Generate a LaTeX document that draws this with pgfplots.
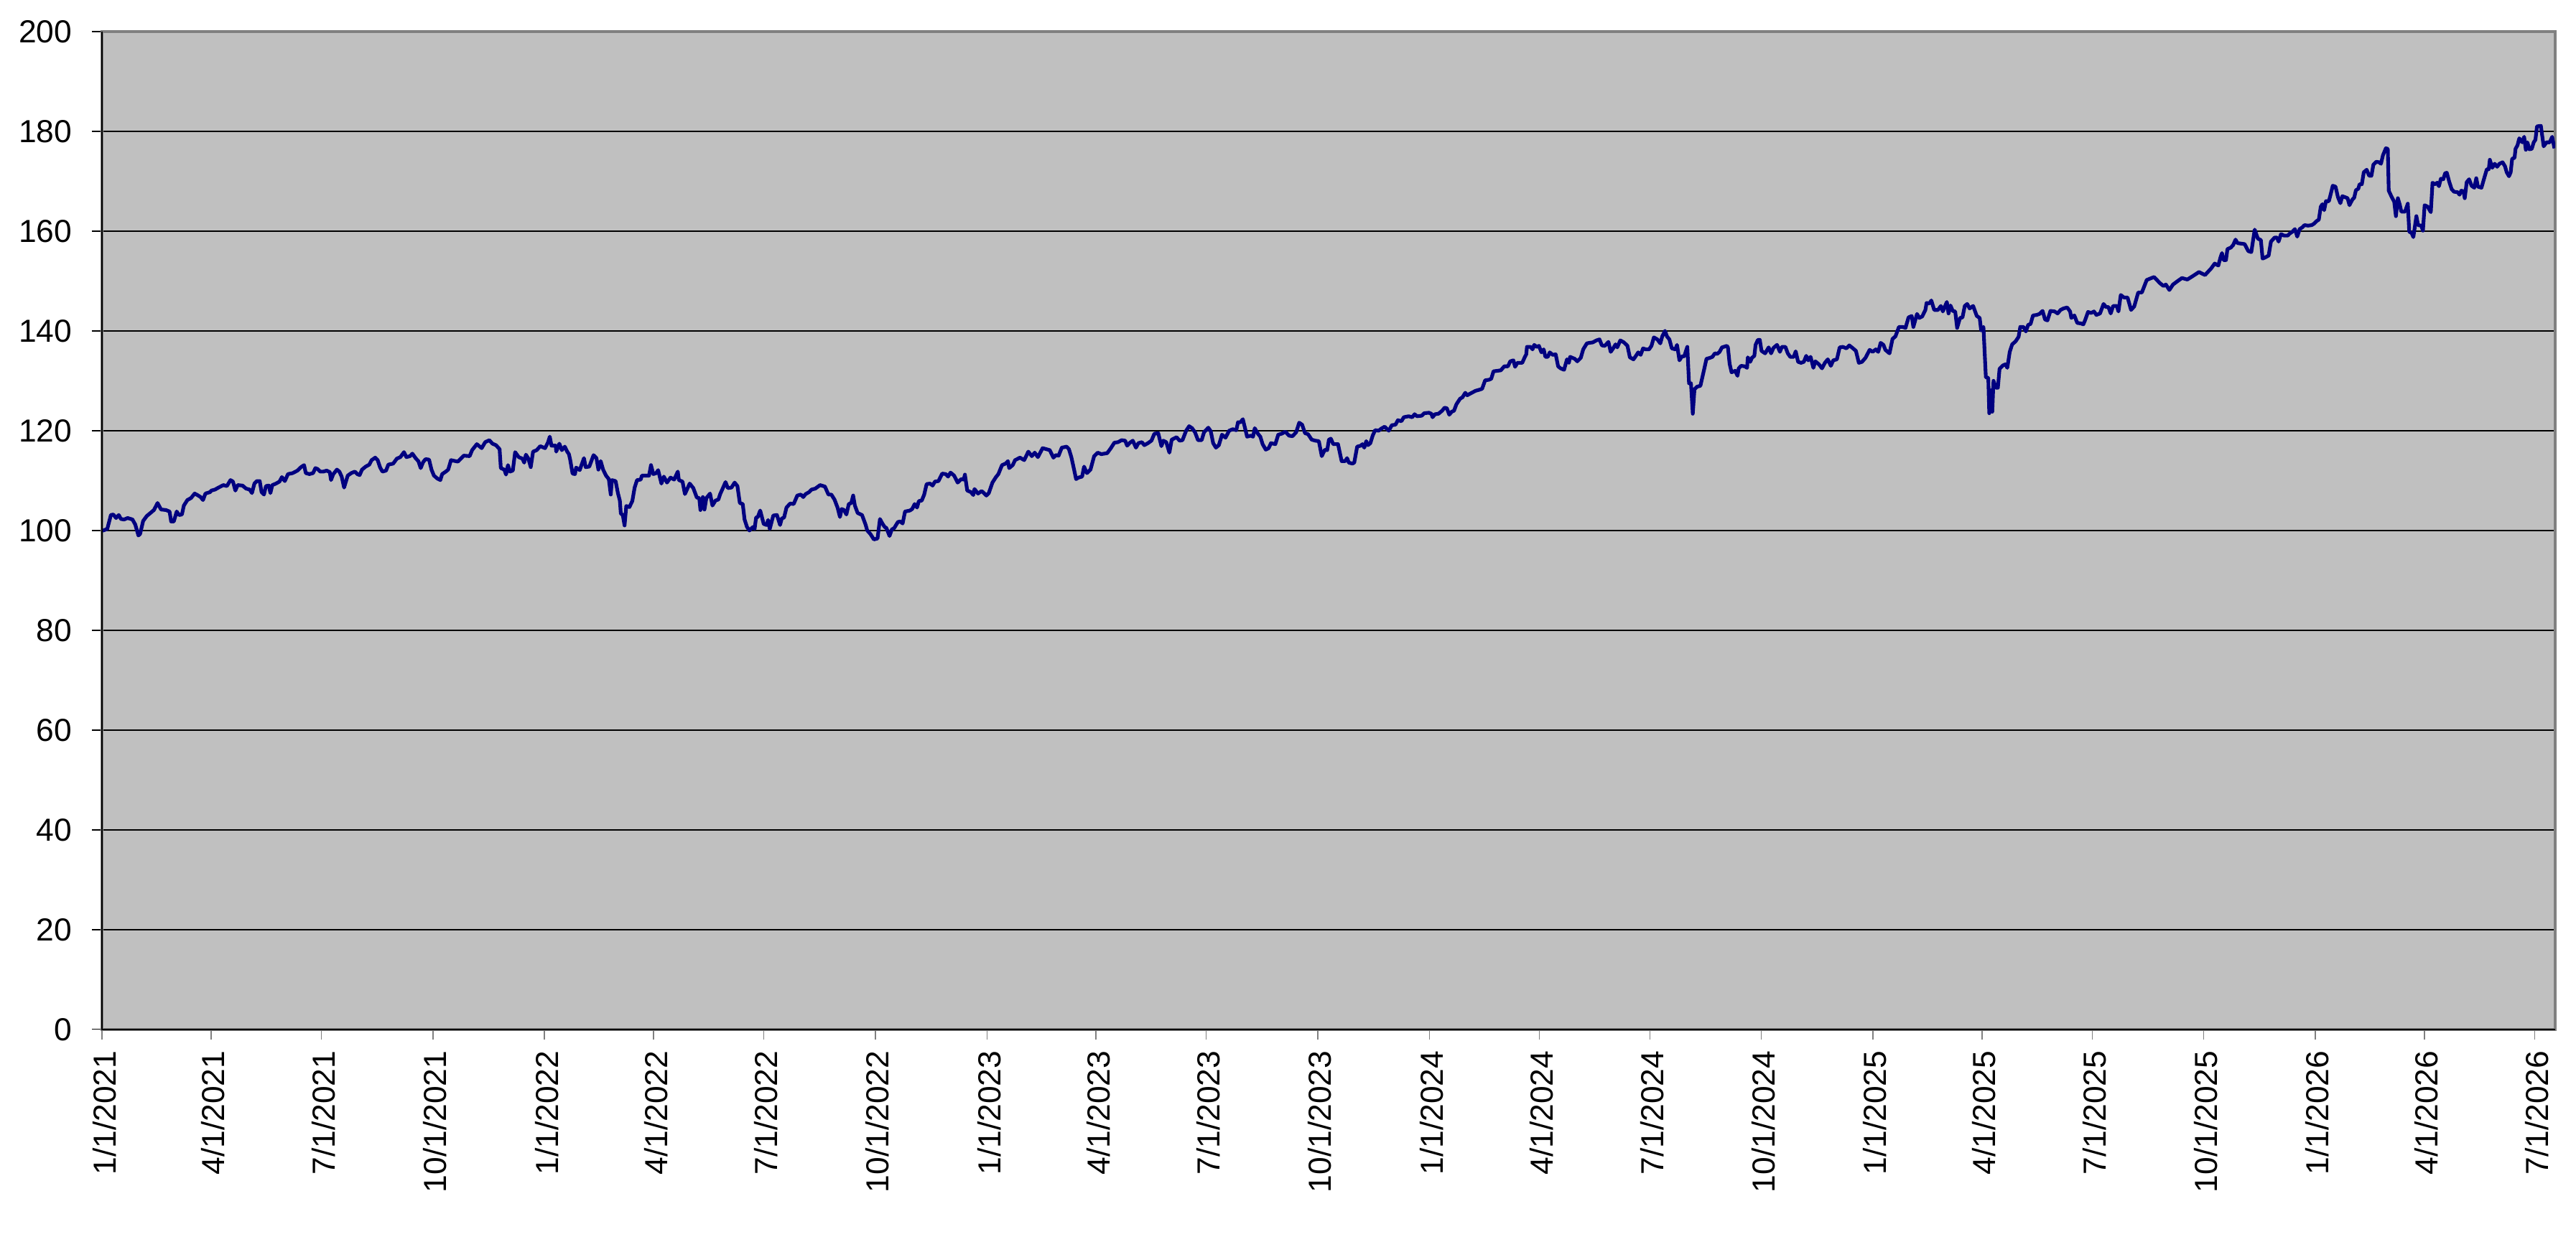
\documentclass[border=0pt]{standalone}
\usepackage{fontspec}
\setmainfont{Liberation Sans}
\usepackage{pgfplots}
\pgfplotsset{compat=1.18}
\definecolor{plotgray}{HTML}{C0C0C0}
\definecolor{bordergray}{HTML}{808080}
\definecolor{navyline}{HTML}{000080}
\begin{document}
\begin{tikzpicture}
\useasboundingbox (-32pt,-65.1pt) rectangle (775.8pt,322.9pt);
\begin{axis}[
  scale only axis, width=769.3pt, height=313pt,
  xmin=0, xmax=2024, ymin=0, ymax=200,
  axis background/.style={fill=plotgray},
  axis line style={draw=bordergray, line width=0.8pt},
  ytick={0,20,...,200},
  ymajorgrids, major grid style={black, line width=0.3pt},
  xtick={0,90,181,273,365,455,546,638,730,820,911,1003,1095,1186,1277,1369,1461,1551,1642,1734,1826,1916,2007},
  xticklabels={1/1/2021,4/1/2021,7/1/2021,10/1/2021,1/1/2022,4/1/2022,7/1/2022,10/1/2022,1/1/2023,4/1/2023,7/1/2023,10/1/2023,1/1/2024,4/1/2024,7/1/2024,10/1/2024,1/1/2025,4/1/2025,7/1/2025,10/1/2025,1/1/2026,4/1/2026,7/1/2026},
  tick align=outside, major tick length=3.2pt,
  xtick pos=bottom, ytick pos=left,
  ytick style={black, line width=0.3pt},
  xtick style={bordergray, line width=0.3pt},
  tick label style={font=\fontsize{10}{12}\selectfont, black},
  xticklabel style={rotate=90, anchor=east, yshift=-0.7pt},
  yticklabel style={anchor=east, xshift=-2.7pt},
  /pgf/number format/assume math mode=true,
  extra description/.code={\draw[black, line width=0.5pt] (rel axis cs:0,1) -- (rel axis cs:0,0) -- (rel axis cs:1,0);},
]
\addplot[navyline, line width=1.15pt, line join=round, no marks] coordinates {
(0,100)(1.0,100)(4.3,100.3)(7.3,103.1)(9.3,103.2)(11.6,102.5)(13.8,103.1)(15.6,102.3)(18.2,102.2)(21.1,102.5)(25.1,102.2)(27.4,101.2)(30.0,99.0)(31.4,99.3)(33.9,101.9)(36.9,102.9)(39.9,103.5)(42.8,104.1)(45.8,105.5)(48.7,104.2)(52.7,104.1)(55.7,103.8)(57.0,101.8)(59.2,101.8)(61.6,103.8)(63.5,103.1)(65.9,103.2)(67.5,105.0)(70.4,106.1)(73.4,106.5)(76.4,107.4)(78.7,107.1)(81.3,106.7)(83.3,106.1)(85.3,107.4)(89.2,107.7)(90.2,108.0)(93.2,108.2)(96.1,108.6)(100.1,109.1)(103.0,108.9)(106.0,110.1)(108.0,109.8)(110.0,108.0)(111.9,109.1)(115.9,109.0)(118.8,108.4)(121.8,108.2)(123.7,107.5)(125.7,109.4)(127.7,109.9)(130.1,109.9)(131.6,107.7)(133.6,107.2)(135.2,108.9)(137.6,109.0)(138.9,107.5)(140.5,109.1)(143.5,109.4)(146.4,109.8)(148.4,110.7)(150.8,109.9)(153.4,111.3)(157.3,111.5)(161.2,112.0)(164.2,112.7)(166.7,113.1)(168.1,111.5)(171.1,111.3)(174.1,111.5)(176.0,112.5)(178.0,112.3)(180.0,111.8)(182.6,111.8)(185.3,112.0)(187.9,111.7)(188.9,110.1)(190.8,111.3)(193.8,112.2)(195.8,111.8)(197.7,110.8)(199.7,108.6)(202.7,111.0)(205.6,111.5)(208.6,111.8)(210.6,111.3)(212.5,111.1)(214.5,112.2)(217.5,112.8)(220.5,113.2)(222.4,114.1)(225.4,114.6)(227.4,114.1)(229.3,112.7)(231.3,111.8)(234.3,112.0)(236.2,113.2)(240.2,113.4)(243.2,114.4)(246.1,114.7)(249.1,115.7)(251.1,114.7)(254.1,114.9)(256.0,115.4)(259.0,114.4)(261.0,113.9)(262.9,112.5)(264.9,113.7)(266.9,114.3)(269.8,114.2)(271.8,112.2)(273.8,111.0)(276.7,110.4)(279.1,110.1)(280.6,111.3)(283.6,111.8)(285.6,112.2)(287.9,114.1)
(293.5,113.8)(298.4,115.0)(303.3,114.9)(305.3,116.1)(309.2,117.3)(313.2,116.5)(316.1,117.7)(319.5,118.1)(322.1,117.4)(325.0,117.1)(328.0,116.3)(329.0,112.5)(331.9,112.2)(333.3,111.2)(334.9,113.1)(336.5,111.8)(338.9,112.0)(340.8,115.7)(343.8,114.7)(346.8,114.4)(348.3,113.6)(349.7,115.2)(351.7,114.4)(353.7,112.7)(355.6,115.8)(358.6,116.1)(361.5,116.9)(365.5,116.5)(368.0,117.7)(369.4,118.8)(370.8,117.0)(374.3,117.0)(374.7,115.8)(377.3,117.4)(379.3,116.1)(381.8,116.8)(383.8,115.8)(385.2,115.3)(386.2,114.2)(388.2,111.4)(390.2,111.3)(391.1,112.6)(394.1,112.1)(397.6,114.5)(399.0,112.7)(402.0,112.8)(405.5,115.1)(407.9,114.5)(409.5,112.2)(411.4,113.9)(413.4,112.2)(415.8,111.0)(418.1,110.3)(419.7,107.2)(420.7,110.1)(423.7,109.9)(425.6,107.5)(427.2,106.0)(428.0,103.4)(429.6,103.1)(431.1,101.0)(432.5,104.9)(435.1,104.7)(437.5,105.9)(439.4,108.6)(441.4,110.1)(444.4,110.2)(445.4,111.0)(448.3,111.0)(451.3,111.0)(452.9,113.1)(454.8,111.3)(457.2,111.5)(458.8,112.1)(461.5,109.4)(463.5,110.8)(466.1,109.6)(469.0,110.6)(472.0,110.2)(475.0,111.8)(475.9,110.1)(478.9,109.8)(480.9,107.3)(484.8,109.4)(487.8,108.5)(490.7,106.6)(492.7,106.5)(493.7,104.1)(495.7,106.7)(497.0,104.2)(498.6,106.5)(501.6,107.4)(503.6,105.0)(506.1,106.0)(508.5,106.2)(510.0,107.3)(512.4,108.6)(514.4,109.7)(516.3,108.5)(519.3,108.6)(521.9,109.6)(524.2,108.9)(526.2,105.5)(528.6,105.3)(530.1,102.2)(532.1,100.7)(534.1,100.0)(537.1,100.7)(538.4,100.3)(539.6,102.6)(541.0,102.7)(543.0,104.0)(545.9,101.3)(548.3,101.1)(549.5,102.1)(550.9,100.3)(553.8,103.0)(556.8,103.1)(559.4,101.1)(560.8,102.4)(562.7,102.6)(564.7,104.6)(567.7,105.4)(570.6,105.3)(573.6,107.0)(576.5,107.2)(578.5,106.7)(580.5,107.3)(583.4,107.7)(585.4,108.2)
(588.5,108.4)(592.4,109.1)(596.4,108.8)(599.3,107.2)(601.7,107.2)(604.3,106.2)(606.8,104.6)(608.8,102.7)(610.2,104.3)(612.2,104.1)(614.1,103.2)(616.1,105.3)(618.1,105.5)(619.7,107.0)(621.1,105.0)(623.4,103.5)(627.0,103.1)(629.9,101.2)(631.3,100.0)(633.9,99.3)(636.8,98.2)(639.8,98.4)(641.8,102.3)(643.8,101.4)(645.7,100.7)(647.1,100.5)(649.7,98.9)(651.6,100.2)(653.6,100.5)(656.6,101.7)(658.6,101.8)(660.5,101.4)(662.5,103.8)(666.5,104.0)(668.4,104.3)(670.4,105.3)(672.4,104.6)(673.9,105.9)(676.3,106.0)(678.3,107.2)(680.3,109.3)(683.2,109.4)(685.2,109.0)(687.2,109.8)(690.1,109.9)(693.1,111.4)(696.1,111.3)(698.0,110.8)(700.0,111.6)(703.0,111.0)(705.9,109.6)(708.9,110.3)(710.9,110.2)(711.9,111.2)(713.8,108.0)(716.8,107.7)(718.8,107.1)(719.8,108.3)(722.7,107.4)(725.7,107.9)(727.6,107.5)(729.6,107.0)(731.6,107.5)(734.6,109.6)(737.5,110.7)(739.5,111.3)(742.5,113.1)(745.4,113.4)(747.4,113.9)(748.4,112.5)(751.3,113.1)(753.3,114.1)(757.3,114.6)(760.8,114.1)(764.2,115.8)(767.1,114.9)(769.5,115.6)(772.1,114.7)(776.0,116.5)(779.0,116.3)(781.9,116.1)(784.9,114.6)(786.9,115.1)(789.2,115.0)(791.8,116.6)(795.8,116.8)(797.7,116.3)(799.7,114.7)(801.7,112.5)(803.6,110.3)(805.6,110.6)(808.6,110.8)(810.2,112.8)(812.5,111.5)(815.5,112.2)(818.5,114.9)(821.4,115.6)(824.4,115.3)(829.3,115.5)(832.3,116.5)(835.2,117.6)(838.2,117.7)(841.2,118.1)(844.1,118.0)(845.7,117.0)(848.1,117.6)(850.4,118.0)(853.0,116.6)(855.0,117.5)(857.9,117.7)(859.9,117.1)(862.9,117.5)(865.8,118.0)(868.2,119.4)(871.4,119.5)
(874.0,116.9)(875.6,118.0)(878.0,117.7)(880.6,115.6)(882.5,118.2)(886.5,118.7)(889.0,118.0)(891.4,118.1)(894.4,120.0)(896.9,120.9)(899.3,120.5)(901.7,119.7)(904.2,118.1)(907.2,118.1)(909.2,119.7)(912.7,120.6)(914.7,119.9)(916.7,117.5)(919.0,116.6)(921.4,117.1)(924.0,119.2)(926.9,118.6)(929.9,120.0)(932.9,120.3)(935.8,120.1)(937.2,121.7)(939.2,121.7)(941.2,122.3)(942.7,120.8)(944.7,118.8)(947.7,119.0)(949.6,118.8)(951.0,120.5)(953.6,119.4)(955.6,118.8)(957.5,117.3)(960.1,116.2)(962.5,116.5)(964.4,117.5)(968.0,117.3)(970.4,119.2)(973.3,119.4)(976.3,119.8)(979.3,119.0)(982.2,118.9)(985.2,119.7)(987.7,121.6)(990.1,121.2)(992.5,119.5)(995.0,119.3)(998.0,118.2)(1001.0,118.0)(1003.9,117.9)(1006.3,114.9)(1008.9,116.2)(1010.8,116.1)(1012.2,118.2)(1013.8,118.4)(1015.8,117.3)(1019.7,117.3)(1022.7,113.9)(1025.6,113.9)(1027.2,114.5)(1028.6,113.6)(1031.6,113.4)(1033.1,113.6)(1035.5,116.8)(1038.5,117.0)(1039.9,117.3)(1041.4,116.6)(1043.0,117.9)(1044.4,117.1)(1046.4,117.5)(1048.3,119.0)(1050.3,120.1)(1053.3,120.0)(1055.3,120.4)(1058.2,120.8)(1061.6,120.0)(1064.1,121.1)(1067.1,121.2)(1069.1,122.1)(1072.0,121.9)(1074.0,122.7)(1078.0,122.9)(1080.9,122.7)(1082.9,123.3)(1084.9,122.9)(1088.8,123.0)(1090.8,123.5)(1094.7,123.6)(1096.7,123.4)(1097.7,122.7)(1099.7,123.3)(1102.6,123.4)(1105.6,124.0)(1107.6,124.6)(1109.5,124.5)(1111.5,123.2)(1113.5,123.8)(1115.4,124.0)(1117.4,125.3)(1120.4,126.4)(1122.4,126.7)(1124.7,127.6)(1126.3,127.1)(1129.3,127.5)(1133.2,128.0)(1136.2,128.2)(1138.6,128.4)(1141.1,130.1)(1144.1,130.2)(1146.1,130.4)(1148.0,131.9)(1151.0,132.0)(1154.0,132.1)(1156.9,132.9)(1159.9,132.9)(1161.8,133.9)
(1164.4,134.1)(1165.8,132.8)(1167.7,133.6)(1171.7,133.6)(1173.7,134.7)(1175.0,135.3)(1175.6,136.8)(1178.6,136.8)(1180.2,136.3)(1181.6,137.2)(1183.5,136.8)(1185.5,137.0)(1187.5,135.7)(1189.4,136.3)(1190.8,134.8)(1192.8,134.8)(1194.4,135.7)(1196.8,135.2)(1199.3,135.3)(1201.3,132.9)(1203.3,132.5)(1206.2,132.2)(1208.6,134.3)(1210.2,133.6)(1211.2,134.8)(1215.1,134.4)(1217.1,133.9)(1220.0,134.6)(1222.0,136.3)(1225.0,137.5)(1227.0,137.6)(1229.9,137.7)(1232.9,138.1)(1235.4,138.3)(1237.4,137.1)(1239.8,137.0)(1242.8,137.8)(1244.7,135.8)(1246.7,136.5)(1248.7,137.3)(1250.1,136.7)(1252.6,138.1)(1255.6,137.7)(1258.5,137.0)(1260.5,134.7)(1263.5,134.3)(1265.5,135.0)(1267.4,135.7)(1269.4,135.2)(1271.4,136.5)(1273.7,136.3)(1276.3,136.3)(1278.3,137.0)(1280.3,138.7)(1283.2,138.3)(1285.6,137.5)(1287.2,138.9)(1289.5,140.0)(1291.1,138.9)(1293.1,138.3)(1295.1,136.5)(1298.0,136.3)(1299.4,137.2)(1301.4,134.1)(1303.4,134.9)(1305.3,134.9)(1307.9,136.8)(1309.3,129.5)(1310.9,129.5)(1312.4,123.4)(1313.8,128.3)(1315.8,128.8)(1318.7,129.0)(1321.7,132.2)(1323.7,134.4)(1326.6,134.6)(1328.6,134.8)(1330.6,135.5)(1332.6,135.4)(1334.5,135.8)(1336.5,136.7)(1340.5,137.0)(1341.4,136.7)(1342.8,133.4)(1344.4,131.7)(1347.4,132.0)(1349.3,131.0)(1350.3,132.5)(1352.3,133.0)(1355.3,132.9)(1357.2,132.6)(1357.8,134.7)(1359.8,133.8)(1361.2,134.6)(1363.2,135.0)(1364.2,137.2)(1366.1,138.2)(1367.7,138.2)(1369.1,136.0)(1372.1,135.5)(1375.0,136.7)(1377.0,135.5)(1379.0,136.6)(1381.9,137.2)(1384.3,135.8)(1385.9,136.8)(1388.8,136.8)(1390.8,135.5)(1392.8,134.8)(1395.7,134.8)(1397.3,135.9)(1399.3,133.8)(1401.7,133.6)(1404.0,133.8)(1406.0,135.0)(1407.6,134.1)(1409.6,134.8)(1411.9,132.6)(1413.5,133.9)(1416.5,133.3)(1419.0,132.5)(1421.4,133.6)(1423.8,134.3)(1426.3,133.0)(1428.3,134.1)(1431.3,134.3)(1433.6,136.7)(1436.2,136.8)(1439.2,136.5)(1441.5,137.1)(1444.1,136.6)(1447.0,136.0)(1449.4,133.6)(1452.0,133.8)(1454.9,134.6)
(1458.3,136.2)(1460.8,135.8)(1463.4,136.3)(1465.4,135.8)(1467.4,137.6)(1469.7,137.2)(1471.3,136.2)(1474.7,135.5)(1477.2,138.4)(1479.6,138.9)(1482.5,140.8)(1485.5,140.8)(1487.9,140.6)(1490.4,142.7)(1493.0,143.0)(1494.4,140.8)(1497.4,143.4)(1499.3,142.6)(1501.7,142.9)(1504.3,144.2)(1505.3,145.6)(1507.6,145.5)(1509.2,146.1)(1511.6,144.2)(1514.7,144.2)(1517.1,145.0)(1518.7,143.9)(1522.0,145.8)(1523.4,143.5)(1525.0,145.1)(1526.9,144.0)(1528.9,143.9)(1530.5,140.6)(1532.9,142.6)(1534.9,142.7)(1536.8,145.0)(1538.8,145.4)(1540.8,144.5)(1543.7,145.0)(1546.7,143.0)(1549.1,142.6)(1550.3,140.1)(1552.2,140.8)(1554.2,130.7)(1556.2,130.6)(1557.0,123.5)(1558.5,128.1)(1559.5,123.8)(1560.5,130.0)(1562.5,128.6)(1564.1,128.6)(1565.5,132.4)(1568.4,133.1)(1570.4,133.3)(1571.9,132.6)(1573.9,135.8)(1575.9,137.3)(1578.7,137.9)(1581.2,138.8)(1582.6,140.8)(1585.2,140.8)(1587.2,139.9)(1589.1,141.2)(1591.1,141.4)(1593.1,143.1)(1596.1,143.2)(1598.4,143.4)(1601.0,144.0)(1603.0,142.3)(1605.0,142.1)(1607.5,144.0)(1610.9,143.9)(1613.4,143.5)(1615.8,144.2)(1618.2,144.5)(1621.3,144.7)(1623.7,143.9)(1624.7,142.6)(1627.2,143.1)(1629.6,141.6)(1632.6,141.5)(1634.6,141.3)(1636.0,142.1)(1638.5,143.8)(1641.1,143.6)(1643.4,143.9)(1645.4,143.2)(1648.4,143.5)(1651.3,145.4)(1653.3,144.8)(1655.3,144.8)(1657.2,143.5)(1659.2,145.0)(1662.2,145.0)(1663.6,143.9)(1665.5,147.2)(1668.1,146.7)(1671.1,146.7)(1674.0,144.2)(1676.6,144.9)(1679.9,147.7)(1682.9,147.7)(1686.9,150.2)(1689.8,150.5)(1693.0,150.8)(1697.7,149.6)(1700.7,149.0)(1702.7,149.3)(1705.6,148.2)(1708.6,149.3)(1712.5,150.0)(1716.0,150.6)(1720.4,150.3)(1725.0,151.0)(1730.0,151.8)(1735.0,151.2)(1740.0,152.5)(1743.0,153.5)
(1746.0,153.1)(1747.6,154.6)(1749.0,155.6)(1750.3,154.2)(1752.3,154.2)(1753.5,156.4)(1756.3,156.7)(1758.2,157.2)(1760.2,158.3)(1761.8,157.6)(1764.8,157.5)(1767.7,157.4)(1770.7,156.0)(1773.2,155.8)(1776.0,160.3)(1778.6,158.5)(1781.1,158.2)(1782.5,154.5)(1784.5,154.7)(1787.5,155.1)(1789.4,157.9)(1792.4,158.7)(1794.4,158.7)(1795.7,157.9)(1797.7,159.4)(1800.3,159.1)(1803.2,159.1)(1804.8,159.5)(1807.2,159.9)(1809.2,160.4)(1811.1,158.9)(1813.1,160.4)(1815.5,160.8)(1817.1,161.2)(1820.0,161.1)(1823.0,161.2)(1825.0,161.5)(1827.0,162.0)(1828.9,162.3)(1830.5,164.9)(1831.9,165.4)(1833.3,164.2)(1834.8,166.0)(1837.2,166.0)(1838.8,167.5)(1840.4,169.1)(1842.7,168.9)(1844.7,166.8)(1846.7,165.6)(1848.3,167.0)(1850.6,166.8)(1852.6,166.6)(1854.2,165.2)(1856.5,166.3)(1858.1,166.7)(1859.5,168.2)(1861.5,168.5)(1862.5,169.4)(1864.4,169.4)(1866.0,171.8)(1868.4,172.3)(1870.4,171.1)(1872.3,171.1)(1873.9,173.3)(1876.3,173.9)(1878.7,173.8)(1880.2,173.5)(1881.8,175.2)(1884.2,176.6)(1885.8,176.5)(1886.6,168.1)(1889.1,166.8)(1891.1,165.9)(1892.5,163.0)(1894.1,166.6)(1895.6,165.4)(1897.0,163.9)(1900.0,163.9)(1902.3,165.5)(1903.5,159.9)(1905.5,159.6)(1906.9,158.8)(1909.4,163.0)(1910.8,161.2)(1913.4,161.1)(1914.8,160.1)(1916.2,165.2)(1918.7,164.9)(1921.3,163.8)(1922.7,169.7)(1924.7,169.4)(1926.6,169.7)(1928.0,169.0)(1929.6,170.5)(1931.6,170.4)(1933.1,171.6)(1934.5,171.7)(1936.5,169.9)(1938.5,168.4)(1940.4,167.9)(1943.4,167.8)(1945.0,167.3)(1946.4,168.1)(1948.3,168.0)(1949.3,166.6)(1950.9,169.8)(1952.9,170.4)(1954.9,169.1)(1957.2,168.7)(1958.8,170.6)(1960.2,168.9)(1963.1,168.7)(1965.1,170.4)(1967.5,172.4)(1969.1,172.4)(1970.0,174.3)(1972.0,172.7)(1974.0,173.5)(1976.0,172.9)(1977.9,173.5)(1980.5,173.8)(1982.5,173.0)(1983.9,171.8)(1985.8,171.0)(1987.2,171.8)(1988.4,174.5)(1990.4,174.7)(1991.2,176.5)(1992.8,177.2)(1994.3,178.6)(1996.7,177.8)(1998.3,178.9)(1999.7,176.3)(2001.0,177.8)(2002.6,176.4)(2004.6,176.5)(2006.2,177.8)(2007.6,178.3)(2008.9,181.0)(2012.1,181.1)(2014.4,177.0)(2016.8,177.8)(2019.4,177.8)(2021.4,178.9)(2023.3,176.6)
};
\end{axis}
\end{tikzpicture}
\end{document}
